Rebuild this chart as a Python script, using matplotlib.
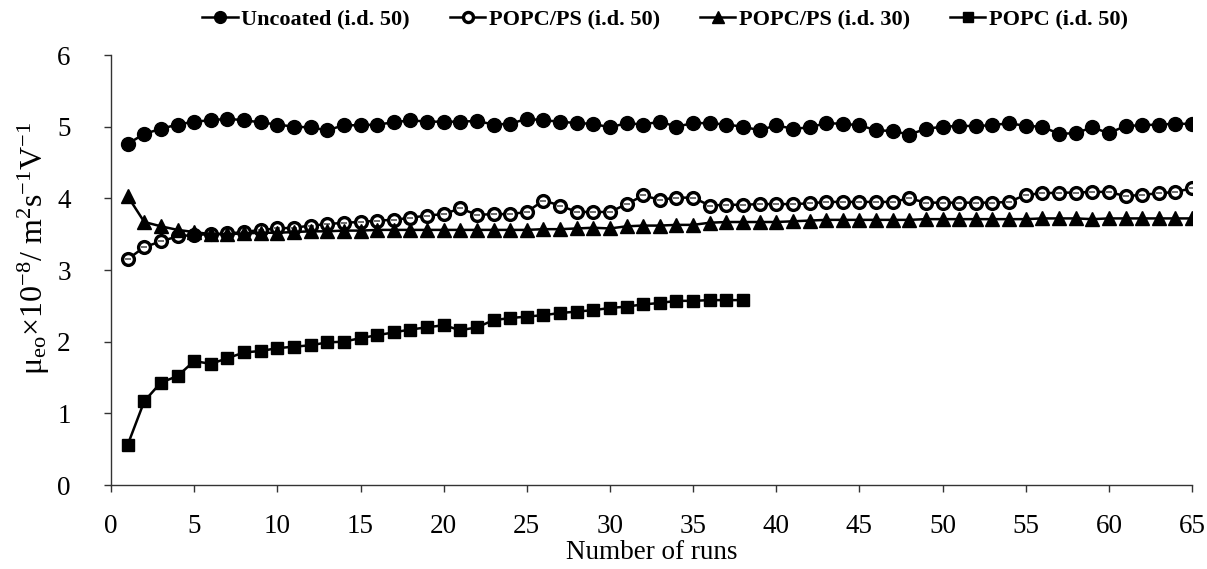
import matplotlib
matplotlib.use("Agg")
import matplotlib.pyplot as plt

# runs 1..65 (POPC only measured up to run 38)
runs = list(range(1, 66))
runs_popc = list(range(1, 39))

uncoated_50 = [4.76, 4.90, 4.97, 5.03, 5.07, 5.09, 5.11, 5.09, 5.06, 5.03,
               5.00, 4.99, 4.95, 5.02, 5.02, 5.03, 5.06, 5.09, 5.07, 5.07,
               5.07, 5.08, 5.03, 5.04, 5.11, 5.09, 5.07, 5.05, 5.04, 4.99,
               5.05, 5.03, 5.07, 5.00, 5.05, 5.05, 5.03, 5.00, 4.95, 5.02,
               4.97, 4.99, 5.05, 5.04, 5.02, 4.95, 4.94, 4.89, 4.97, 5.00,
               5.01, 5.01, 5.02, 5.05, 5.01, 5.00, 4.90, 4.91, 4.99, 4.91,
               5.01, 5.02, 5.03, 5.04, 5.04]

popc_ps_50 = [3.15, 3.32, 3.40, 3.47, 3.49, 3.50, 3.51, 3.53, 3.56, 3.58,
              3.59, 3.62, 3.64, 3.66, 3.67, 3.69, 3.70, 3.73, 3.76, 3.78,
              3.86, 3.77, 3.78, 3.78, 3.81, 3.97, 3.90, 3.81, 3.81, 3.81,
              3.92, 4.04, 3.98, 4.01, 4.01, 3.90, 3.91, 3.91, 3.92, 3.92,
              3.92, 3.93, 3.95, 3.95, 3.95, 3.95, 3.95, 4.00, 3.94, 3.94,
              3.94, 3.94, 3.94, 3.95, 4.05, 4.07, 4.08, 4.08, 4.09, 4.09,
              4.03, 4.05, 4.07, 4.09, 4.14]

popc_ps_30 = [4.03, 3.67, 3.61, 3.56, 3.53, 3.50, 3.50, 3.51, 3.52, 3.52,
              3.53, 3.54, 3.54, 3.55, 3.55, 3.56, 3.56, 3.56, 3.56, 3.56,
              3.56, 3.56, 3.56, 3.56, 3.56, 3.57, 3.57, 3.58, 3.59, 3.58,
              3.61, 3.62, 3.62, 3.63, 3.63, 3.66, 3.67, 3.67, 3.67, 3.67,
              3.68, 3.69, 3.70, 3.70, 3.70, 3.70, 3.70, 3.70, 3.71, 3.71,
              3.71, 3.71, 3.71, 3.71, 3.71, 3.72, 3.72, 3.72, 3.71, 3.72,
              3.72, 3.72, 3.72, 3.72, 3.72]

popc_50 = [0.56, 1.17, 1.43, 1.52, 1.73, 1.69, 1.77, 1.85, 1.87, 1.91,
           1.93, 1.95, 1.99, 2.00, 2.05, 2.09, 2.13, 2.17, 2.20, 2.23,
           2.16, 2.20, 2.30, 2.33, 2.35, 2.37, 2.40, 2.42, 2.44, 2.47,
           2.49, 2.52, 2.54, 2.57, 2.57, 2.58, 2.58, 2.58]

labels = ["Uncoated (i.d. 50)", "POPC/PS (i.d. 50)",
          "POPC/PS (i.d. 30)", "POPC (i.d. 50)"]

plt.rcParams["font.family"] = ["Liberation Serif", "DejaVu Serif"]
plt.rcParams["mathtext.fontset"] = "custom"
plt.rcParams["mathtext.rm"] = "Liberation Serif"
plt.rcParams["mathtext.it"] = "Liberation Serif:italic"

fig = plt.figure(figsize=(12.07, 5.69), dpi=100)
ax = fig.add_axes([0.092, 0.1476, 0.8956, 0.7557])

lw = 1.8
ax.plot(runs, uncoated_50, color="black", lw=lw, marker="o", ms=10,
        mfc="black", mec="black", label=labels[0])
ax.plot(runs, popc_ps_50, color="black", lw=lw, marker="o", ms=8.5,
        mfc="white", mec="black", mew=2.4, label=labels[1])
ax.plot(runs, popc_ps_50, ls="none", marker="_", ms=4, mew=1.2, color="#555555")
ax.plot(runs, popc_ps_30, color="black", lw=lw, marker="^", ms=10,
        mfc="black", mec="black", label=labels[2])
ax.plot(runs_popc, popc_50, color="black", lw=lw, marker="s", ms=9,
        mfc="black", mec="black", label=labels[3])

ax.set_xlim(0, 65)
ax.set_ylim(0, 6)
ax.set_xticks(range(0, 66, 5))
ax.set_yticks(range(0, 7))

for side in ["top", "right"]:
    ax.spines[side].set_visible(False)
for side in ["left", "bottom"]:
    ax.spines[side].set_linewidth(1.0)
    ax.spines[side].set_color("#333333")

ax.tick_params(axis="both", direction="out", length=5, width=1,
               color="#333333", labelsize=19.5)
ax.tick_params(axis="x", pad=16)
ax.tick_params(axis="y", pad=24)

ax.set_xlabel("Number of runs", fontsize=19.5, va="baseline")
ax.xaxis.set_label_coords(0.5, -0.172)
ax.set_ylabel(r"μ$_{\mathrm{eo}}$×10$^{\mathrm{-8}}$/ m$^{\mathrm{2}}$s$^{\mathrm{-1}}$V$^{\mathrm{-1}}$",
              fontsize=23)
ax.yaxis.set_label_coords(-0.055, 0.55)

fig.legend(loc="center", bbox_to_anchor=(0.551, 0.966), ncol=4,
           frameon=False, handlelength=1.6, handletextpad=0.15,
           columnspacing=1.8, markerscale=0.85,
           prop={"size": 16, "weight": "bold"})

fig.savefig("out.png", dpi=100)
